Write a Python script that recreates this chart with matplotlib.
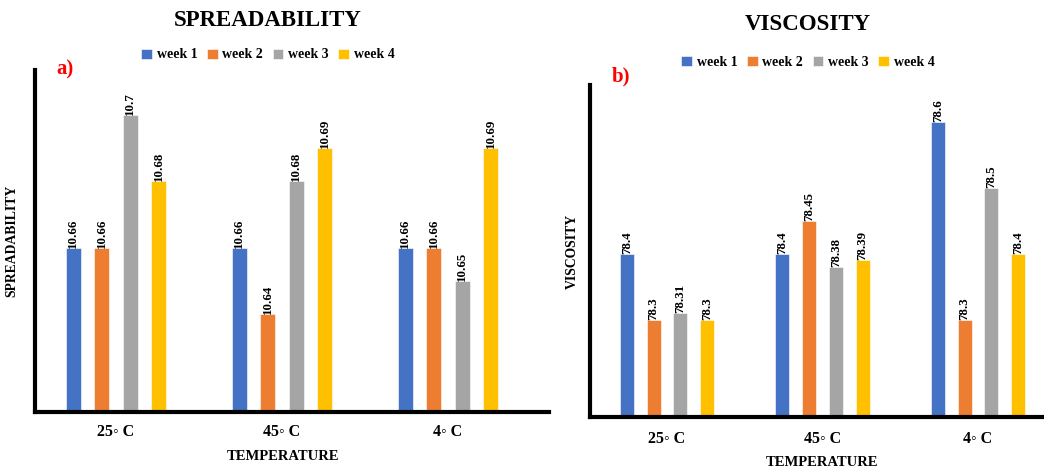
import numpy as np
import matplotlib
matplotlib.use("Agg")
import matplotlib.pyplot as plt

plt.rcParams['font.family'] = ['Liberation Serif', 'DejaVu Serif']
plt.rcParams['font.weight'] = 'bold'

temps = ['25◦ C', '45◦ C', '4◦ C']
weeks = ['week 1', 'week 2', 'week 3', 'week 4']
colors = ['#4472C4', '#ED7D31', '#A5A5A5', '#FFC000']

# rows = weeks, columns = temperatures
spread = [
    [10.66, 10.66, 10.66],
    [10.66, 10.64, 10.66],
    [10.70, 10.68, 10.65],
    [10.68, 10.69, 10.69],
]
visc = [
    [78.4, 78.4, 78.6],
    [78.3, 78.45, 78.3],
    [78.31, 78.38, 78.5],
    [78.3, 78.39, 78.4],
]

W, H = 1044, 468
fig = plt.figure(figsize=(W / 100, H / 100), dpi=100)


def px_axes(x0, y_top, x1, y_bot):
    return fig.add_axes([x0 / W, 1 - y_bot / H, (x1 - x0) / W, (y_bot - y_top) / H])


def fx(x):
    return x / W


def fy(y):
    return 1 - y / H


def draw_panel(ax, data, ylim, xlim, ylabel, step, width, ylabelpad, tickpad):
    x = np.arange(len(temps))
    for i, (wk, vals) in enumerate(zip(weeks, data)):
        pos = x + (i - 1.5) * step
        bars = ax.bar(pos, vals, width, color=colors[i], label=wk,
                      edgecolor='white', linewidth=0.4)
        for b, v in zip(bars, vals):
            ax.text(b.get_x() + b.get_width() / 2, v, f"{v:g}",
                    rotation=90, ha='center', va='bottom', fontsize=9.3,
                    fontweight='bold')
    ax.set_ylim(*ylim)
    ax.set_xlim(*xlim)
    ax.set_xticks(x)
    ax.set_xticklabels(temps, fontsize=11.5, fontweight='bold')
    ax.tick_params(axis='x', length=0, pad=tickpad)
    ax.set_yticks([])
    for s in ['top', 'right']:
        ax.spines[s].set_visible(False)
    for s in ['left', 'bottom']:
        ax.spines[s].set_linewidth(3)
    ax.set_ylabel(ylabel, fontsize=9.8, fontweight='bold', labelpad=ylabelpad)


def panel_text(title, title_xy, leg_xy, xlab_xy, tag, tag_xy, handles):
    fig.text(fx(title_xy[0]), fy(title_xy[1]), title, fontsize=16.5,
             fontweight='bold', ha='center', va='center')
    fig.legend(handles, weeks, loc='center',
               bbox_to_anchor=(fx(leg_xy[0]), fy(leg_xy[1])), ncol=4,
               frameon=False, handlelength=0.75, handleheight=0.75,
               handletextpad=0.35, columnspacing=0.7,
               prop={'weight': 'bold', 'size': 10})
    fig.text(fx(xlab_xy[0]), fy(xlab_xy[1]), 'TEMPERATURE', fontsize=10.5,
             fontweight='bold', ha='center', va='center')
    fig.text(fx(tag_xy[0]), fy(tag_xy[1]), tag, color='red', fontsize=15,
             fontweight='bold', ha='left', va='center')


ax1 = px_axes(35, 70, 549, 412)
draw_panel(ax1, spread, (10.6104, 10.7136), (-0.488, 2.608), 'SPREADABILITY',
           0.172, 0.09, 12, 9)
h1, _ = ax1.get_legend_handles_labels()
panel_text('SPREADABILITY', (268, 20), (268, 55), (283, 456), 'a)', (56, 69), h1)

ax2 = px_axes(590, 85, 1044, 417)
draw_panel(ax2, visc, (78.1526, 78.6556), (-0.495, 2.425), 'VISCOSITY',
           0.172, 0.09, 8, 10)
h2, _ = ax2.get_legend_handles_labels()
panel_text('VISCOSITY', (808, 25), (808, 62), (822, 462), 'b)', (612, 76), h2)

fig.savefig('out.png', dpi=100)
